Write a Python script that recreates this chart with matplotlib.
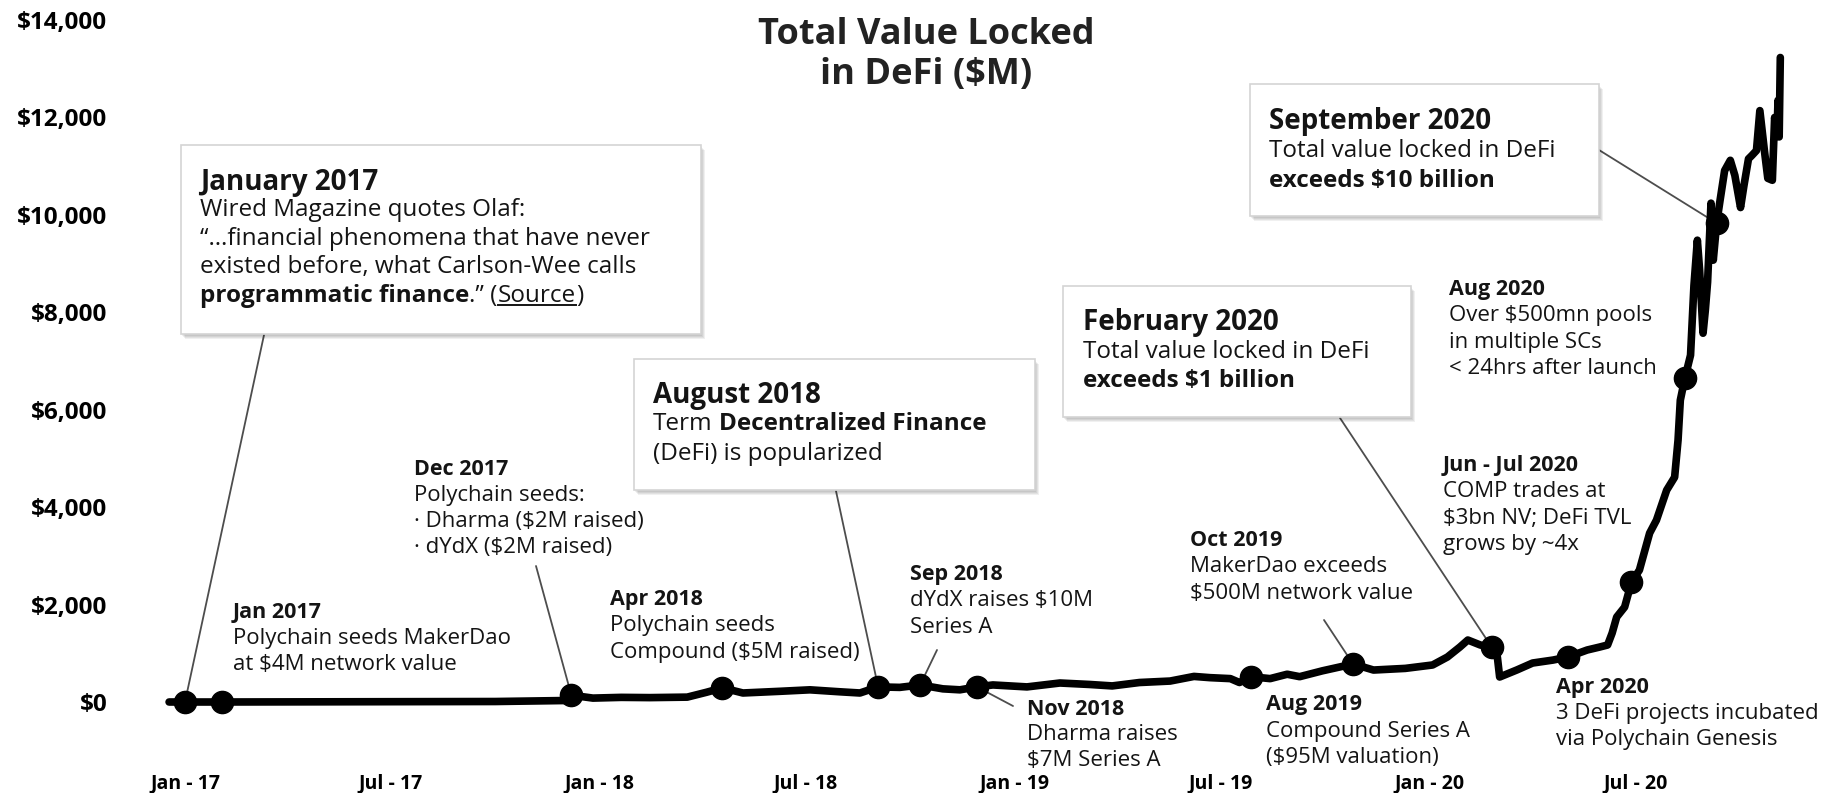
"""Total Value Locked in DeFi timeline chart."""

import re

import numpy as np
import pandas as pd
import matplotlib
matplotlib.use('Agg')
import matplotlib.pyplot as plt
import matplotlib.dates as mdates
from matplotlib.patches import Rectangle, ConnectionPatch

plt.rcParams['font.family'] = ['Open Sans', 'DejaVu Sans']

# TVL series ($M)
tvl_dates = [
    '2016-12-18', '2017-01-01', '2017-02-03', '2017-06-01', '2017-10-01', '2017-12-01',
    '2017-12-07', '2017-12-26', '2018-01-20', '2018-02-14', '2018-03-19', '2018-04-05',
    '2018-04-19', '2018-05-07', '2018-06-09', '2018-07-05', '2018-07-31', '2018-08-18',
    '2018-09-03', '2018-09-22', '2018-10-10', '2018-10-30', '2018-11-14', '2018-11-29',
    '2018-12-13', '2019-01-12', '2019-02-10', '2019-03-08', '2019-03-28', '2019-04-21',
    '2019-05-18', '2019-06-08', '2019-06-22', '2019-07-10', '2019-07-18', '2019-07-28',
    '2019-08-14', '2019-08-29', '2019-09-09', '2019-09-29', '2019-10-26', '2019-11-13',
    '2019-12-11', '2020-01-04', '2020-01-17', '2020-01-28', '2020-02-04', '2020-02-15',
    '2020-02-25', '2020-03-01', '2020-03-03', '2020-03-18', '2020-04-01', '2020-04-19',
    '2020-05-02', '2020-05-19', '2020-05-30', '2020-06-06', '2020-06-10', '2020-06-14',
    '2020-06-21', '2020-06-27', '2020-07-04', '2020-07-13', '2020-07-19', '2020-07-28',
    '2020-08-04', '2020-08-07', '2020-08-09', '2020-08-13', '2020-08-18', '2020-08-21',
    '2020-08-24', '2020-08-26', '2020-08-29', '2020-08-31', '2020-09-02', '2020-09-05',
    '2020-09-07', '2020-09-10', '2020-09-13', '2020-09-17', '2020-09-22', '2020-09-26',
    '2020-10-01', '2020-10-04', '2020-10-08', '2020-10-11', '2020-10-15', '2020-10-18',
    '2020-10-22', '2020-10-25', '2020-10-29', '2020-10-31', '2020-11-02', '2020-11-03',
    '2020-11-04', '2020-11-05']
tvl_values = [
    0, 0, 0, 5, 10, 30,
    140, 80, 95, 90, 100, 200,
    290, 185, 220, 250, 210, 185,
    310, 300, 350, 270, 250, 310,
    350, 310, 390, 360, 330, 400,
    430, 525, 500, 480, 400, 520,
    480, 570, 520, 640, 780, 656,
    690, 760, 923, 1128, 1272, 1170,
    1128, 920, 513, 656, 800, 861,
    923, 1067, 1128, 1170, 1415, 1744,
    1949, 2460, 2708, 3467, 3733, 4349,
    4615, 5374, 6195, 6646, 7120, 8550,
    9480, 8860, 7570, 8040, 8620, 10240,
    9070, 9830, 10300, 10910, 11120, 10810,
    10150, 10600, 11150, 11220, 11320, 12140,
    11320, 10750, 10710, 12000, 11630, 12350,
    11600, 13230]

# milestone dots
event_dates = [
    '2017-01-01', '2017-02-03', '2017-12-07', '2018-04-19', '2018-09-03', '2018-10-10',
    '2018-11-29', '2019-07-28', '2019-10-26', '2020-02-25', '2020-05-02', '2020-06-27',
    '2020-08-13', '2020-09-10']

y_ticks = [0, 2000, 4000, 6000, 8000, 10000, 12000, 14000]
y_tick_labels = ['$0', '$2,000', '$4,000', '$6,000', '$8,000', '$10,000', '$12,000', '$14,000']
x_tick_dates = ['2017-01-01', '2017-07-01', '2018-01-01', '2018-07-01',
                '2019-01-01', '2019-07-01', '2020-01-01', '2020-07-01']
x_tick_labels = ['Jan - 17', 'Jul - 17', 'Jan - 18', 'Jul - 18', 'Jan - 19', 'Jul - 19', 'Jan - 20', 'Jul - 20']

title = 'Total Value Locked\nin DeFi ($M)'

# callout text (**bold**, __underline__)
box_jan_2017 = ['**January 2017**', 'Wired Magazine quotes Olaf:', '“…financial phenomena that have never',
                'existed before, what Carlson-Wee calls', '**programmatic finance**.” (__Source__)']
box_aug_2018 = ['**August 2018**', 'Term **Decentralized Finance**', '(DeFi) is popularized']
box_feb_2020 = ['**February 2020**', 'Total value locked in DeFi', '**exceeds $1 billion**']
box_sep_2020 = ['**September 2020**', 'Total value locked in DeFi', '**exceeds $10 billion**']
label_jan_2017 = ['**Jan 2017**', 'Polychain seeds MakerDao', 'at $4M network value']
label_dec_2017 = ['**Dec 2017**', 'Polychain seeds:', '· Dharma ($2M raised)', '· dYdX ($2M raised)']
label_apr_2018 = ['**Apr 2018**', 'Polychain seeds', 'Compound ($5M raised)']
label_sep_2018 = ['**Sep 2018**', 'dYdX raises $10M', 'Series A']
label_nov_2018 = ['**Nov 2018**', 'Dharma raises', '$7M Series A']
label_aug_2019 = ['**Aug 2019**', 'Compound Series A', '($95M valuation)']
label_oct_2019 = ['**Oct 2019**', 'MakerDao exceeds', '$500M network value']
label_apr_2020 = ['**Apr 2020**', '3 DeFi projects incubated', 'via Polychain Genesis']
label_jun_2020 = ['**Jun - Jul 2020**', 'COMP trades at', '$3bn NV; DeFi TVL', 'grows by ~4x']
label_aug_2020 = ['**Aug 2020**', 'Over $500mn pools', 'in multiple SCs', '< 24hrs after launch']

TEXT = '#141414'
POINTER = '#4d4d4d'

W, H, DPI = 1835, 793, 100
fig = plt.figure(figsize=(W / DPI, H / DPI), dpi=DPI)
fig.patch.set_facecolor('white')

# pixel geometry, origin top-left
AX_LEFT, AX_BOTTOM = 115, 733
X_JAN17, X_JUL20 = 185, 1636
Y_ZERO, Y_TOP = 702, 20

ax = fig.add_axes([AX_LEFT / W, (H - AX_BOTTOM) / H, (W - AX_LEFT) / W, AX_BOTTOM / H])
tick_x = mdates.date2num(pd.to_datetime(x_tick_dates).values)
ppd = (X_JUL20 - X_JAN17) / (tick_x[-1] - tick_x[0])
ax.set_xlim(tick_x[0] - (X_JAN17 - AX_LEFT) / ppd, tick_x[0] + (W - X_JAN17) / ppd)
ppv = (Y_ZERO - Y_TOP) / y_ticks[-1]
ax.set_ylim(-(AX_BOTTOM - Y_ZERO) / ppv, y_ticks[-1] + Y_TOP / ppv)

x = mdates.date2num(pd.to_datetime(tvl_dates).values)
ax.plot(x, tvl_values, color='black', lw=5.5, solid_joinstyle='round', solid_capstyle='round', zorder=3)
ev_x = mdates.date2num(pd.to_datetime(event_dates).values)
ev_y = np.interp(ev_x, x, tvl_values)
ax.plot(ev_x, ev_y, 'o', ms=16, color='black', zorder=4)

ax.set_xticks(tick_x, x_tick_labels, fontweight='bold')
ax.set_yticks(y_ticks, y_tick_labels, fontweight='bold')
ax.tick_params(axis='x', length=0, pad=29, labelsize=14, labelcolor='black')
ax.tick_params(axis='y', length=0, pad=5.5, labelsize=17.5, labelcolor='black')
for spine in ax.spines.values():
    spine.set_visible(False)
ax.patch.set_visible(False)

# overlay in pixel coordinates for callouts
ov = fig.add_axes([0, 0, 1, 1])
ov.set_xlim(0, W)
ov.set_ylim(H, 0)
ov.set_axis_off()
ov.patch.set_visible(False)
ov.set_zorder(2)
renderer = fig.canvas.get_renderer()


def parse_runs(line):
    runs = []
    for part in re.split(r'(\*\*.+?\*\*|__.+?__)', line):
        if not part:
            continue
        if part.startswith('**'):
            runs.append((part[2:-2], 'bold', False))
        elif part.startswith('__'):
            runs.append((part[2:-2], 'normal', True))
        else:
            runs.append((part, 'normal', False))
    return runs


def text_width(s, size, weight):
    t = ov.text(0, 0, s, fontsize=size, fontweight=weight)
    w = t.get_window_extent(renderer).width
    t.remove()
    return w


def draw_line(x, y, line, size):
    for s, weight, underline in parse_runs(line):
        space = text_width('x x', size, weight) - text_width('xx', size, weight)
        x += (len(s) - len(s.lstrip(' '))) * space
        core = s.strip(' ')
        t = ov.text(x, y, core, fontsize=size, fontweight=weight, color=TEXT, ha='left', va='center_baseline')
        w = t.get_window_extent(renderer).width
        if underline:
            ov.plot([x, x + w], [y + size * 0.66, y + size * 0.66], color=TEXT, lw=1.4)
        x += w + (len(s) - len(s.rstrip(' '))) * space


def draw_block(x, y, lines, step, title_size, body_size):
    for i, line in enumerate(lines):
        draw_line(x, y + i * step, line, title_size if i == 0 else body_size)


def draw_box(x, y, w, h):
    for i in range(4):
        ov.add_patch(Rectangle((x + 1 + i, y + 2 + i), w, h, fc='black', ec='none', alpha=0.06, zorder=1))
    ov.add_patch(Rectangle((x, y), w, h, fc='white', ec='#d4d4d4', lw=1.2, zorder=2))


def pointer(px, py, idx):
    con = ConnectionPatch(xyA=(px, py), coordsA=ov.transData, xyB=(ev_x[idx], ev_y[idx]),
                          coordsB=ax.transData, color=POINTER, lw=1.3, zorder=2, clip_on=False)
    ax.add_artist(con)


ov.text(926, 55, title, ha='center', va='center', fontsize=26, fontweight='bold',
        color='#222222', linespacing=1.17)

# boxed callouts
draw_box(181, 145, 520, 189)
draw_block(200, 179, box_jan_2017, 28.5, 20, 17.5)
pointer(264, 335, 0)

draw_box(634, 359, 401, 131)
draw_block(653, 392, box_aug_2018, 29.5, 20, 17.5)
pointer(836, 491, 4)

draw_box(1063, 286, 348, 131)
draw_block(1083, 319, box_feb_2020, 29.5, 20, 17.5)
pointer(1340, 418, 9)

draw_box(1250, 84, 349, 132)
draw_block(1269, 118, box_sep_2020, 30, 20, 17.5)
pointer(1599, 150, 13)

# plain labels
draw_block(233, 610, label_jan_2017, 26, 15.5, 16)
draw_block(414, 467, label_dec_2017, 26, 15.5, 16)
pointer(536, 566, 2)
draw_block(610, 597, label_apr_2018, 26.5, 15.5, 16)
draw_block(910, 572, label_sep_2018, 26.5, 15.5, 16)
pointer(937, 650, 5)
draw_block(1027, 707, label_nov_2018, 25.5, 15.5, 16)
pointer(1013, 706, 6)
draw_block(1266, 702, label_aug_2019, 26.5, 15.5, 16)
draw_block(1190, 538, label_oct_2019, 26.5, 15.5, 16)
pointer(1324, 620, 8)
draw_block(1556, 685, label_apr_2020, 26, 15.5, 16)
draw_block(1443, 463, label_jun_2020, 26.3, 15.5, 16)
draw_block(1449, 287, label_aug_2020, 26.3, 15.5, 16)

fig.savefig('out.png', dpi=DPI, facecolor='white')
